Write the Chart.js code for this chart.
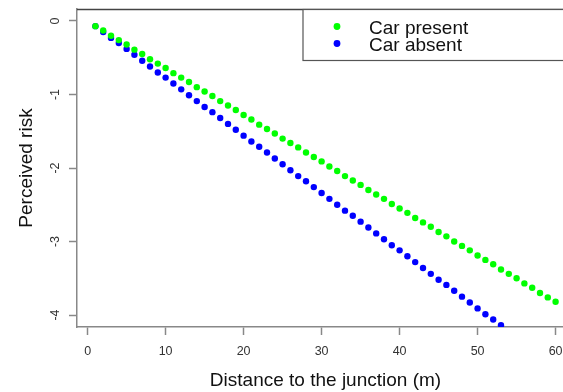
<!DOCTYPE html>
<html>
<head>
<meta charset="utf-8">
<script src="https://cdn.jsdelivr.net/npm/chart.js@4/dist/chart.umd.min.js"></script>
<style>
  html, body { margin: 0; padding: 0; background: #fff; overflow: hidden; }
  #wrap { width: 600px; height: 392px; }
</style>
</head>
<body>
<div id="wrap"><canvas id="myChart" width="600" height="392"></canvas></div>
<script>
'use strict';

// distance (m) for each point
var distPresent = [1,2,3,4,5,6,7,8,9,10,11,12,13,14,15,16,17,18,19,20,21,22,23,24,25,26,27,28,29,30,
    31,32,33,34,35,36,37,38,39,40,41,42,43,44,45,46,47,48,49,50,51,52,53,54,55,56,57,58,59,60];
var riskPresent = [-0.07,-0.13,-0.20,-0.26,-0.32,-0.39,-0.45,-0.52,-0.58,-0.64,
    -0.71,-0.77,-0.83,-0.90,-0.96,-1.02,-1.09,-1.15,-1.21,-1.28,
    -1.34,-1.41,-1.47,-1.53,-1.60,-1.66,-1.72,-1.79,-1.85,-1.91,
    -1.98,-2.04,-2.11,-2.17,-2.23,-2.30,-2.36,-2.42,-2.49,-2.55,
    -2.61,-2.68,-2.74,-2.80,-2.87,-2.93,-3.00,-3.06,-3.12,-3.19,
    -3.25,-3.31,-3.38,-3.44,-3.50,-3.57,-3.63,-3.70,-3.76,-3.82];

var distAbsent = [1,2,3,4,5,6,7,8,9,10,11,12,13,14,15,16,17,18,19,20,21,22,23,24,25,26,27,28,29,30,
    31,32,33,34,35,36,37,38,39,40,41,42,43,44,45,46,47,48,49,50,51,52,53];
var riskAbsent = [-0.07,-0.15,-0.23,-0.30,-0.38,-0.46,-0.54,-0.62,-0.70,-0.77,
    -0.85,-0.93,-1.01,-1.09,-1.17,-1.24,-1.32,-1.40,-1.48,-1.56,
    -1.64,-1.71,-1.79,-1.87,-1.95,-2.03,-2.11,-2.18,-2.26,-2.34,
    -2.42,-2.50,-2.58,-2.65,-2.73,-2.81,-2.89,-2.97,-3.05,-3.12,
    -3.20,-3.28,-3.36,-3.44,-3.52,-3.59,-3.67,-3.75,-3.83,-3.91,
    -3.99,-4.06,-4.14];

var seriesNames = ['Car present', 'Car absent'];
var xTicks = [0, 10, 20, 30, 40, 50, 60];
var yTicks = [0, -1, -2, -3, -4];

function toPoints(xs, ys) {
    return xs.map(function (x, i) { return {x: x, y: ys[i]}; });
}

var FONT = '"Liberation Sans", Arial, sans-serif';

// box top line + legend drawn in the plot area like R's legend()
var boxLegend = {
    id: 'boxLegend',
    afterDraw: function (chart) {
        var ctx = chart.ctx;
        var a = chart.chartArea;
        ctx.save();
        ctx.strokeStyle = '#444';
        ctx.lineWidth = 1.5;
        ctx.beginPath();
        ctx.moveTo(a.left, a.top + 0.5);
        ctx.lineTo(a.right, a.top + 0.5);
        ctx.stroke();

        // legend box
        ctx.strokeStyle = '#555';
        ctx.lineWidth = 1.2;
        ctx.fillStyle = '#fff';
        ctx.fillRect(303, a.top + 0.5, 300, 51);
        ctx.strokeRect(303, a.top + 0.5, 300, 51);

        ctx.font = '19px ' + FONT;
        ctx.textBaseline = 'alphabetic';
        chart.data.datasets.forEach(function (ds, i) {
            var y = 26.5 + i * 17;
            ctx.fillStyle = ds.backgroundColor;
            ctx.beginPath();
            ctx.arc(337, y, 3.4, 0, Math.PI * 2);
            ctx.fill();
            ctx.fillStyle = '#111';
            ctx.fillText(ds.label, 369, y + 7.5);
        });
        ctx.restore();
    }
};

var config = {
    type: 'scatter',
    data: {
        datasets: [
            {
                label: seriesNames[0],
                data: toPoints(distPresent, riskPresent),
                backgroundColor: '#00ff00',
                borderWidth: 0,
                pointRadius: 3.2
            },
            {
                label: seriesNames[1],
                data: toPoints(distAbsent, riskAbsent),
                backgroundColor: '#0000ff',
                borderWidth: 0,
                pointRadius: 3.2
            }
        ]
    },
    options: {
        responsive: false,
        animation: false,
        devicePixelRatio: 1,
        layout: { padding: { left: 0, top: 9, right: 26, bottom: 0 } },
        plugins: {
            legend: { display: false },
            tooltip: { enabled: false }
        },
        scales: {
            x: {
                type: 'linear',
                min: -1.36,
                max: 62.36,
                afterBuildTicks: function (s) { s.ticks = xTicks.map(function (v) { return {value: v}; }); },
                afterFit: function (s) { s.height = 65; s.paddingLeft = 0; s.paddingRight = 0; },
                grid: { drawOnChartArea: false, drawTicks: true, tickLength: 8, tickColor: '#888', tickWidth: 1.5 },
                border: { display: true, color: '#888', width: 1.5 },
                ticks: { color: '#333', font: { family: FONT, size: 12.5 }, padding: 9, maxRotation: 0 },
                title: {
                    display: true,
                    text: 'Distance to the junction (m)',
                    color: '#111',
                    font: { family: FONT, size: 19 },
                    padding: { top: 0, bottom: 0 }
                }
            },
            y: {
                type: 'linear',
                min: -4.163,
                max: 0.163,
                afterBuildTicks: function (s) { s.ticks = yTicks.map(function (v) { return {value: v}; }); },
                afterFit: function (s) { s.width = 77; s.paddingTop = 0; s.paddingBottom = 0; },
                grid: { drawOnChartArea: false, drawTicks: true, tickLength: 8, tickColor: '#888', tickWidth: 1.5 },
                border: { display: true, color: '#888', width: 1.5 },
                ticks: {
                    color: '#333',
                    font: { family: FONT, size: 12.5 },
                    minRotation: 90,
                    maxRotation: 90,
                    crossAlign: 'center',
                    padding: 8
                },
                title: {
                    display: true,
                    text: 'Perceived risk',
                    color: '#111',
                    font: { family: FONT, size: 19 },
                    padding: { top: 15, bottom: 0 }
                }
            }
        }
    },
    plugins: [boxLegend]
};

var myChart = new Chart(document.getElementById('myChart'), config);
</script>
</body>
</html>
